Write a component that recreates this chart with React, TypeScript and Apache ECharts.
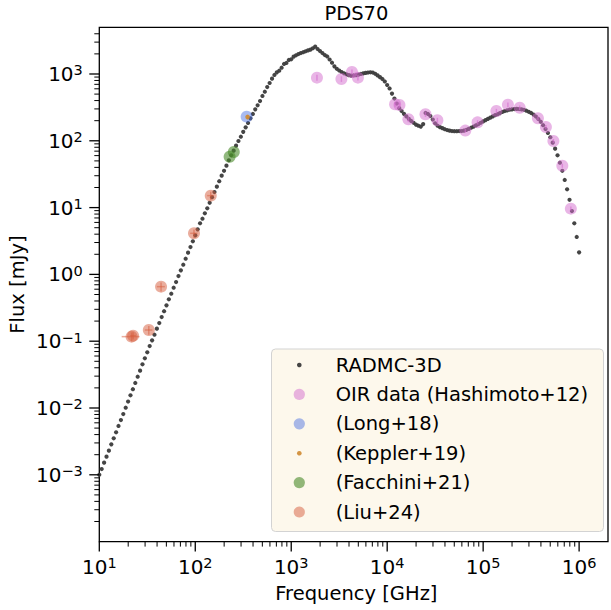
import React, { useEffect, useRef } from 'react';
import * as echarts from 'echarts';

const FONT = "'DejaVu Sans', 'Liberation Sans', sans-serif";

// axis ranges
const X_MIN = 10;
const X_MAX = 2e6;
const Y_MIN = 1e-4;
const Y_MAX = 5e3;

// model frequency grid (log-uniform, 40 points per decade, 10 GHz .. 1e6 GHz)
const GRID_MANTISSA = [
  1.0, 1.059, 1.122, 1.189, 1.259, 1.334, 1.413, 1.496, 1.585, 1.679,
  1.778, 1.884, 1.995, 2.113, 2.239, 2.371, 2.512, 2.661, 2.818, 2.985,
  3.162, 3.35, 3.548, 3.758, 3.981, 4.217, 4.467, 4.732, 5.012, 5.309,
  5.623, 5.957, 6.31, 6.683, 7.079, 7.499, 7.943, 8.414, 8.913, 9.441,
];
const GRID_DECADES = [10, 100, 1000, 10000, 100000];
const MODEL_FREQ: number[] = [
  ...GRID_DECADES.flatMap((d) => GRID_MANTISSA.map((m) => m * d)),
  1e6,
];

// RADMC-3D model flux [mJy]
const MODEL_FLUX = [
  1.0e-3, 1.22e-3, 1.52e-3, 1.87e-3, 2.3e-3, 2.86e-3, 3.52e-3, 4.33e-3, 5.38e-3, 6.61e-3,
  8.13e-3, 1.01e-2, 1.25e-2, 1.55e-2, 1.91e-2, 2.37e-2, 2.94e-2, 3.62e-2, 4.51e-2, 5.55e-2,
  6.82e-2, 8.47e-2, 0.103, 0.125, 0.154, 0.187, 0.23, 0.281, 0.344, 0.424,
  0.514, 0.632, 0.769, 0.946, 1.151, 1.396, 1.718, 2.113, 2.57, 3.133,
  3.846, 4.73, 5.82, 6.82, 8.22, 9.77, 11.8, 14.3, 17.1, 20.6,
  24.8, 30.1, 35.6, 42.4, 51.1, 60.7, 71.1, 84.5, 99.3, 115,
  136, 159, 185, 217, 252, 296, 340, 394, 469, 543,
  638, 733, 851, 966, 1059, 1119, 1242, 1413, 1462, 1622,
  1660, 1816, 1905, 1990, 2061, 2119, 2188, 2256, 2317, 2427,
  2564, 2366, 2208, 2061, 1923, 1828, 1648, 1476, 1303, 1197,
  1128, 1071, 1024, 990, 960, 944, 950, 960, 980, 1000,
  1021, 1038, 1052, 1060, 1052, 1007, 953, 896, 842, 773,
  684, 607, 509, 429, 361, 308, 279, 253, 232, 213,
  198, 186, 175, 168, 163, 178, 261, 252, 235, 208,
  183, 168, 160, 155, 149, 145, 142, 140, 139, 139,
  140, 140, 142, 146, 151, 157, 163, 170, 178, 186,
  195, 204, 213, 222, 232, 242, 250, 260, 270, 279,
  286, 292, 296, 299, 301, 299, 296, 291, 282, 272,
  261, 247, 231, 212, 193, 171, 150, 131, 113, 93.8,
  76.2, 60.7, 47.0, 35.6, 25.9, 18.8, 13.1, 8.89, 5.82, 3.63, 2.14,
];

// OIR data (Hashimoto+12)
const OIR_FREQ = [1854, 3334, 4295, 4955, 12085, 13430, 16630, 25060, 33340, 65160, 87480, 137400, 181100, 240400, 372300, 450800, 539700, 668300, 820000];
const OIR_FLUX = [881, 841, 1071, 881, 352, 344, 210, 250, 203, 142, 189, 279, 347, 313, 217, 161, 99.3, 42.4, 9.64];
const OIR_ERR = [90, 80, 100, 85, 30, 30, 20, 22, 18, 10, 14, 22, 28, 25, 16, 12, 7, 3, 0.7];

// (Long+18)
const LONG_FREQ = [343];
const LONG_FLUX = [230];

// (Keppler+19)
const KEPPLER_FREQ = [351];
const KEPPLER_FLUX = [227];
const KEPPLER_ERR = [18];

// (Facchini+21)
const FACCHINI_FREQ = [228, 252];
const FACCHINI_FLUX = [57.8, 67.9];

// (Liu+24)
const LIU_FREQ = [21.7, 22.5, 32.8, 44, 97, 145];
const LIU_FLUX = [0.117, 0.121, 0.147, 0.655, 4.12, 15.1];
const LIU_FREQ_ERR = [4.6, 1.5, 3.0, 4.2, 8.5, 12];
const LIU_FLUX_ERR = [0.018, 0.015, 0.022, 0.1, 0.6, 2.2];

const TITLE = 'PDS70';
const X_NAME = 'Frequency [GHz]';
const Y_NAME = 'Flux [mJy]';
const LEGEND_LABELS = ['RADMC-3D', 'OIR data (Hashimoto+12)', '(Long+18)', '(Keppler+19)', '(Facchini+21)', '(Liu+24)'];

// tick positions
const TICK_MANTISSAS = [1, 2, 3, 4, 5, 6, 7, 8, 9];
const X_TICK_DECADES = [10, 100, 1e3, 1e4, 1e5, 1e6];
const Y_TICK_DECADES = [1e-4, 1e-3, 1e-2, 1e-1, 1, 10, 100, 1000];

const COLORS = {
  model: '#3b3b3b',
  oir: '#d46ccd',
  long: '#4169e1',
  keppler: '#cf8a32',
  facchini: '#4a8a2a',
  liu: '#d65c3c',
};

const MARKER = 12;

function powLabel(v: number): string {
  const lg = Math.log10(v);
  const e = Math.round(lg);
  if (Math.abs(lg - e) > 0.01) return '';
  const s = String(e).replace('-', '\u2212');
  return `{b|10}{s|${s}}`;
}

function buildTicks(decades: number[], lo: number, hi: number) {
  const out: { v: number; major: number }[] = [];
  decades.forEach((d) => {
    TICK_MANTISSAS.forEach((m) => {
      const v = m * d;
      if (v > lo * 1.001 && v < hi * 0.999) out.push({ v, major: m === 1 ? 1 : 0 });
    });
  });
  return out;
}

export default function App() {
  const ref = useRef<HTMLDivElement>(null);

  useEffect(() => {
    document.body.style.margin = '0';
    if (!ref.current) return;
    const chart = echarts.init(ref.current, undefined, { renderer: 'svg' });

    const xTicks = buildTicks(X_TICK_DECADES, X_MIN * 0.99, X_MAX);
    const yTicks = buildTicks(Y_TICK_DECADES, Y_MIN, Y_MAX);

    const MAJOR_LEN = 10;
    const MINOR_LEN = 5;

    const labelRich = {
      b: { fontSize: 20, fontFamily: FONT, color: '#000', lineHeight: 22 },
      s: { fontSize: 14.5, fontFamily: FONT, color: '#000', lineHeight: 22, verticalAlign: 'top' },
    };

    const errSeries = (
      name: string,
      data: number[][],
      color: string,
      opacity: number,
      width: number,
      z: number
    ) => ({
      type: 'custom',
      name,
      coordinateSystem: 'cartesian2d',
      clip: false,
      silent: true,
      z,
      encode: { x: 0, y: 1 },
      data,
      renderItem: (_p: any, api: any) => {
        const x = api.value(0);
        const y = api.value(1);
        const xl = api.value(2);
        const xh = api.value(3);
        const yl = api.value(4);
        const yh = api.value(5);
        const children: any[] = [];
        const st = { stroke: color, lineWidth: width, opacity };
        if (yl !== yh) {
          const a = api.coord([x, yl]);
          const b = api.coord([x, yh]);
          children.push({ type: 'line', shape: { x1: a[0], y1: a[1], x2: b[0], y2: b[1] }, style: st });
        }
        if (xl !== xh) {
          const a = api.coord([xl, y]);
          const b = api.coord([xh, y]);
          children.push({ type: 'line', shape: { x1: a[0], y1: a[1], x2: b[0], y2: b[1] }, style: st });
        }
        return { type: 'group', children };
      },
    });

    const legendRowsY = [365, 394.4, 423.8, 453.2, 482.6, 512];
    const legendMarkers = [
      { color: COLORS.model, r: 2.3, op: 0.95 },
      { color: COLORS.oir, r: 5.6, op: 0.5 },
      { color: COLORS.long, r: 5.6, op: 0.45 },
      { color: COLORS.keppler, r: 2.3, op: 0.9 },
      { color: COLORS.facchini, r: 5.6, op: 0.6 },
      { color: COLORS.liu, r: 5.6, op: 0.5 },
    ];

    const legendGraphic = {
      type: 'group',
      z: 100,
      children: [
        {
          type: 'rect',
          shape: { x: 271.5, y: 349, width: 332, height: 182.5, r: 4 },
          style: { fill: '#fdf8ec', stroke: '#d3d3d3', lineWidth: 1 },
        },
        ...legendMarkers.map((m, i) => ({
          type: 'circle',
          shape: { cx: 299.3, cy: legendRowsY[i], r: m.r },
          style: { fill: m.color, opacity: m.op },
        })),
        ...LEGEND_LABELS.map((t, i) => ({
          type: 'text',
          x: 335.7,
          y: legendRowsY[i],
          style: {
            text: t,
            fill: '#000',
            font: `19.5px ${FONT}`,
            textAlign: 'left',
            textVerticalAlign: 'middle',
          },
        })),
      ],
    };

    const option: any = {
      animation: false,
      backgroundColor: '#fff',
      grid: {
        left: 99.3,
        top: 27.3,
        width: 514.2,
        height: 514.3,
        show: true,
        borderColor: '#000',
        borderWidth: 1.3,
        backgroundColor: 'transparent',
        containLabel: false,
      },
      xAxis: {
        type: 'log',
        logBase: 10,
        min: X_MIN,
        max: X_MAX,
        axisLine: { show: false },
        axisTick: { show: false },
        splitLine: { show: false },
        minorTick: { show: false },
        axisLabel: {
          show: true,
          margin: 14,
          formatter: (v: number) => powLabel(v),
          rich: labelRich,
        },
      },
      yAxis: {
        type: 'log',
        logBase: 10,
        min: Y_MIN,
        max: Y_MAX,
        axisLine: { show: false },
        axisTick: { show: false },
        splitLine: { show: false },
        minorTick: { show: false },
        axisLabel: {
          show: true,
          margin: 16.5,
          formatter: (v: number) => (v < Y_MIN * 1.5 ? '' : powLabel(v)),
          rich: labelRich,
        },
      },
      graphic: [
        {
          type: 'text',
          x: 356.4,
          y: 13.5,
          style: { text: TITLE, fill: '#000', font: `19.5px ${FONT}`, textAlign: 'center', textVerticalAlign: 'middle' },
        },
        {
          type: 'text',
          x: 356.4,
          y: 593,
          style: { text: X_NAME, fill: '#000', font: `19.5px ${FONT}`, textAlign: 'center', textVerticalAlign: 'middle' },
        },
        {
          type: 'text',
          x: 17,
          y: 284.6,
          rotation: Math.PI / 2,
          style: { text: Y_NAME, fill: '#000', font: `19.5px ${FONT}`, textAlign: 'center', textVerticalAlign: 'middle' },
        },
        legendGraphic,
      ],
      series: [
        {
          type: 'custom',
          name: 'xticks',
          coordinateSystem: 'cartesian2d',
          clip: false,
          silent: true,
          z: 10,
          encode: { x: 0, y: 1 },
          data: xTicks.map((t) => [t.v, Y_MIN, t.major]),
          renderItem: (_p: any, api: any) => {
            const p = api.coord([api.value(0), api.value(1)]);
            const major = api.value(2) === 1;
            return {
              type: 'line',
              shape: { x1: p[0], y1: p[1], x2: p[0], y2: p[1] + (major ? MAJOR_LEN : MINOR_LEN) },
              style: { stroke: '#000', lineWidth: major ? 1.3 : 1 },
            };
          },
        },
        {
          type: 'custom',
          name: 'yticks',
          coordinateSystem: 'cartesian2d',
          clip: false,
          silent: true,
          z: 10,
          encode: { x: 0, y: 1 },
          data: yTicks.map((t) => [X_MIN, t.v, t.major]),
          renderItem: (_p: any, api: any) => {
            const p = api.coord([api.value(0), api.value(1)]);
            const major = api.value(2) === 1;
            return {
              type: 'line',
              shape: { x1: p[0], y1: p[1], x2: p[0] - (major ? MAJOR_LEN : MINOR_LEN), y2: p[1] },
              style: { stroke: '#000', lineWidth: major ? 1.3 : 1 },
            };
          },
        },
        {
          type: 'scatter',
          name: 'RADMC-3D',
          symbol: 'circle',
          symbolSize: 4.2,
          z: 2,
          itemStyle: { color: COLORS.model, opacity: 0.95 },
          data: MODEL_FREQ.map((f, i) => [f, MODEL_FLUX[i]]),
        },
        errSeries(
          'oir-err',
          OIR_FREQ.map((f, i) => [f, OIR_FLUX[i], f, f, OIR_FLUX[i] - OIR_ERR[i], OIR_FLUX[i] + OIR_ERR[i]]),
          COLORS.oir,
          0.6,
          1.5,
          3
        ),
        {
          type: 'scatter',
          name: 'OIR data (Hashimoto+12)',
          symbol: 'circle',
          symbolSize: MARKER,
          z: 3,
          itemStyle: { color: COLORS.oir, opacity: 0.5 },
          data: OIR_FREQ.map((f, i) => [f, OIR_FLUX[i]]),
        },
        {
          type: 'scatter',
          name: '(Long+18)',
          symbol: 'circle',
          symbolSize: MARKER,
          z: 3,
          itemStyle: { color: COLORS.long, opacity: 0.45 },
          data: LONG_FREQ.map((f, i) => [f, LONG_FLUX[i]]),
        },
        errSeries(
          'keppler-err',
          KEPPLER_FREQ.map((f, i) => [f, KEPPLER_FLUX[i], f, f, KEPPLER_FLUX[i] - KEPPLER_ERR[i], KEPPLER_FLUX[i] + KEPPLER_ERR[i]]),
          COLORS.keppler,
          0.9,
          1.5,
          4
        ),
        {
          type: 'scatter',
          name: '(Keppler+19)',
          symbol: 'circle',
          symbolSize: 4.6,
          z: 4,
          itemStyle: { color: COLORS.keppler, opacity: 0.9 },
          data: KEPPLER_FREQ.map((f, i) => [f, KEPPLER_FLUX[i]]),
        },
        {
          type: 'scatter',
          name: '(Facchini+21)',
          symbol: 'circle',
          symbolSize: MARKER,
          z: 3,
          itemStyle: { color: COLORS.facchini, opacity: 0.6 },
          data: FACCHINI_FREQ.map((f, i) => [f, FACCHINI_FLUX[i]]),
        },
        errSeries(
          'liu-err',
          LIU_FREQ.map((f, i) => [
            f,
            LIU_FLUX[i],
            f - LIU_FREQ_ERR[i],
            f + LIU_FREQ_ERR[i],
            LIU_FLUX[i] - LIU_FLUX_ERR[i],
            LIU_FLUX[i] + LIU_FLUX_ERR[i],
          ]),
          COLORS.liu,
          0.5,
          1.5,
          3
        ),
        {
          type: 'scatter',
          name: '(Liu+24)',
          symbol: 'circle',
          symbolSize: MARKER,
          z: 3,
          itemStyle: { color: COLORS.liu, opacity: 0.5 },
          data: LIU_FREQ.map((f, i) => [f, LIU_FLUX[i]]),
        },
      ],
    };

    chart.setOption(option);
    return () => chart.dispose();
  }, []);

  return <div ref={ref} style={{ width: 611, height: 610 }} />;
}
